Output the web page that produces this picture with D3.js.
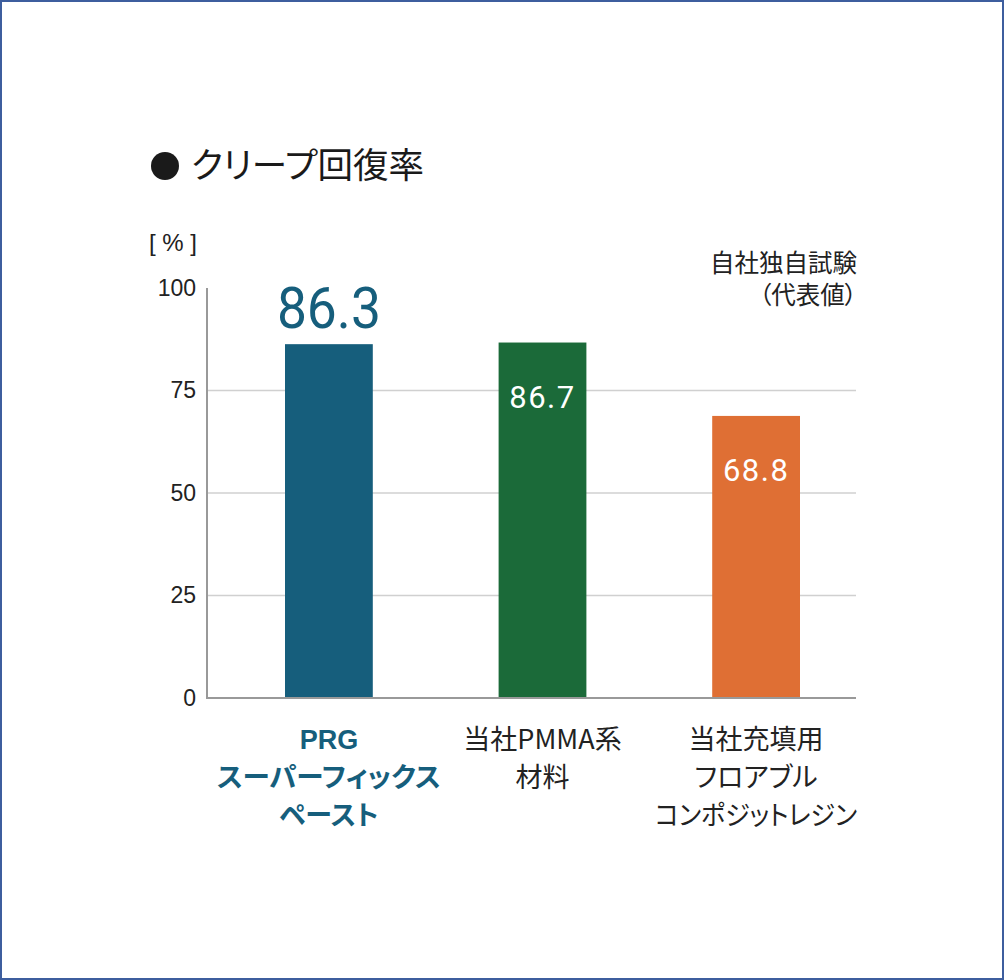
<!DOCTYPE html>
<html>
<head>
<meta charset="utf-8">
<script src="https://cdn.jsdelivr.net/npm/d3@7"></script>
<style>
  body { margin: 0; background: #fff; }
  svg { display: block; }
  .jp { font-family: "Noto Sans CJK JP", sans-serif; font-feature-settings: "palt"; }
</style>
</head>
<body>
<svg width="1004" height="980"></svg>
<script>
// データ
var categories = ["PRG", "PMMA", "FLOW"];
var labelLines = [
    ["PRG", "スーパーフィックス", "ペースト"],
    ["当社PMMA系", "材料"],
    ["当社充填用", "フロアブル", "コンポジットレジン"]
];
var values = [86.3, 86.7, 68.8];
var barColors = ["#165e7c", "#1b6a39", "#df6f34"];
var yTicks = [0, 25, 50, 75, 100];

var svg = d3.select("svg");

// 枠
svg.append("rect")
    .attr("x", 1).attr("y", 1)
    .attr("width", 1002).attr("height", 978)
    .attr("fill", "#fff")
    .attr("stroke", "#3d5e9e")
    .attr("stroke-width", 2);

var pLeft = 207, pRight = 856, pTop = 288, pBottom = 698;

var y = d3.scaleLinear().domain([0, 100]).range([pBottom, pTop]);
var x = d3.scaleBand()
    .domain(categories)
    .range([285, 800])
    .paddingInner(0.589)
    .paddingOuter(0);

// グリッド線
svg.append("g")
    .selectAll("line")
    .data(yTicks.filter(function (d) { return d > 0 && d < 100; }))
    .enter()
    .append("line")
    .attr("x1", pLeft).attr("x2", pRight)
    .attr("y1", function (d) { return y(d); })
    .attr("y2", function (d) { return y(d); })
    .attr("stroke", "#d0d0d0")
    .attr("stroke-width", 1.5);

// 棒
svg.selectAll("rect.bar")
    .data(values)
    .enter()
    .append("rect")
    .attr("class", "bar")
    .attr("x", function (d, i) { return x(categories[i]); })
    .attr("y", function (d) { return y(d); })
    .attr("width", x.bandwidth())
    .attr("height", function (d) { return pBottom - y(d); })
    .attr("fill", function (d, i) { return barColors[i]; });

// 軸
var yAxis = d3.axisLeft(y).tickValues(yTicks).tickSize(0).tickPadding(11);
var ga = svg.append("g")
    .attr("transform", "translate(" + pLeft + ",0)")
    .call(yAxis);
ga.select(".domain").remove();
ga.selectAll("text")
    .attr("font-family", "'Liberation Sans', Arial, sans-serif")
    .attr("font-size", 23)
    .attr("fill", "#222");

svg.append("line")
    .attr("x1", pLeft).attr("x2", pLeft)
    .attr("y1", pTop).attr("y2", pBottom)
    .attr("stroke", "#999").attr("stroke-width", 2);
svg.append("line")
    .attr("x1", pLeft - 1).attr("x2", pRight)
    .attr("y1", pBottom).attr("y2", pBottom)
    .attr("stroke", "#999").attr("stroke-width", 2);

svg.append("text")
    .attr("x", 173).attr("y", 251)
    .attr("text-anchor", "middle")
    .attr("font-family", "'Liberation Sans', Arial, sans-serif")
    .attr("font-size", 24)
    .attr("font-weight", 300)
    .attr("fill", "#222")
    .attr("xml:space", "preserve")
    .text("[ % ]");

// タイトル
svg.append("circle")
    .attr("cx", 165).attr("cy", 166).attr("r", 14)
    .attr("fill", "#1a1a1a");
svg.append("text")
    .attr("class", "jp")
    .attr("x", 191).attr("y", 178)
    .attr("font-size", 35.5)
    .attr("fill", "#1a1a1a")
    .text("クリープ回復率");

// 注記
svg.append("text")
    .attr("class", "jp")
    .attr("x", 857).attr("y", 272)
    .attr("text-anchor", "end")
    .attr("font-size", 24.5)
    .attr("fill", "#222")
    .text("自社独自試験");
svg.append("text")
    .attr("class", "jp")
    .attr("x", 857).attr("y", 304)
    .attr("text-anchor", "end")
    .attr("font-size", 24.5)
    .attr("fill", "#222")
    .text("（代表値）");

// 数値ラベル
svg.append("text")
    .attr("x", x(categories[0]) + x.bandwidth() / 2)
    .attr("y", y(values[0]) - 16)
    .attr("text-anchor", "middle")
    .attr("font-family", "Roboto, sans-serif")
    .attr("font-size", 58)
    .attr("textLength", 104)
    .attr("lengthAdjust", "spacingAndGlyphs")
    .attr("fill", "#165e7c")
    .text(values[0].toFixed(1));

svg.selectAll("text.inval")
    .data(values.slice(1))
    .enter()
    .append("text")
    .attr("class", "inval")
    .attr("x", function (d, i) { return x(categories[i + 1]) + x.bandwidth() / 2; })
    .attr("y", function (d) { return y(d) + 65; })
    .attr("text-anchor", "middle")
    .attr("font-family", "Roboto, sans-serif")
    .attr("font-size", 31)
    .attr("letter-spacing", 1.5)
    .attr("fill", "#fff")
    .text(function (d) { return d.toFixed(1); });

// カテゴリラベル
labelLines.forEach(function (lines, i) {
    var t = svg.append("text")
        .attr("class", "jp")
        .attr("text-anchor", "middle")
        .attr("font-size", 27)
        .attr("fill", i === 0 ? "#165e7c" : "#222")
        .attr("font-weight", i === 0 ? 700 : 400);
    lines.forEach(function (s, j) {
        var ts = t.append("tspan")
            .attr("x", x(categories[i]) + x.bandwidth() / 2)
            .attr("y", 749 + j * 38)
            .attr("font-family", (i === 0 && j === 0) ? "'Liberation Sans', Arial, sans-serif" : null)
            .text(s);
        if (i === 0 && j === 1) ts.attr("textLength", 224).attr("lengthAdjust", "spacingAndGlyphs");
        if (i === 2 && j === 2) ts.attr("textLength", 202).attr("lengthAdjust", "spacingAndGlyphs");
    });
});
</script>
</body>
</html>
